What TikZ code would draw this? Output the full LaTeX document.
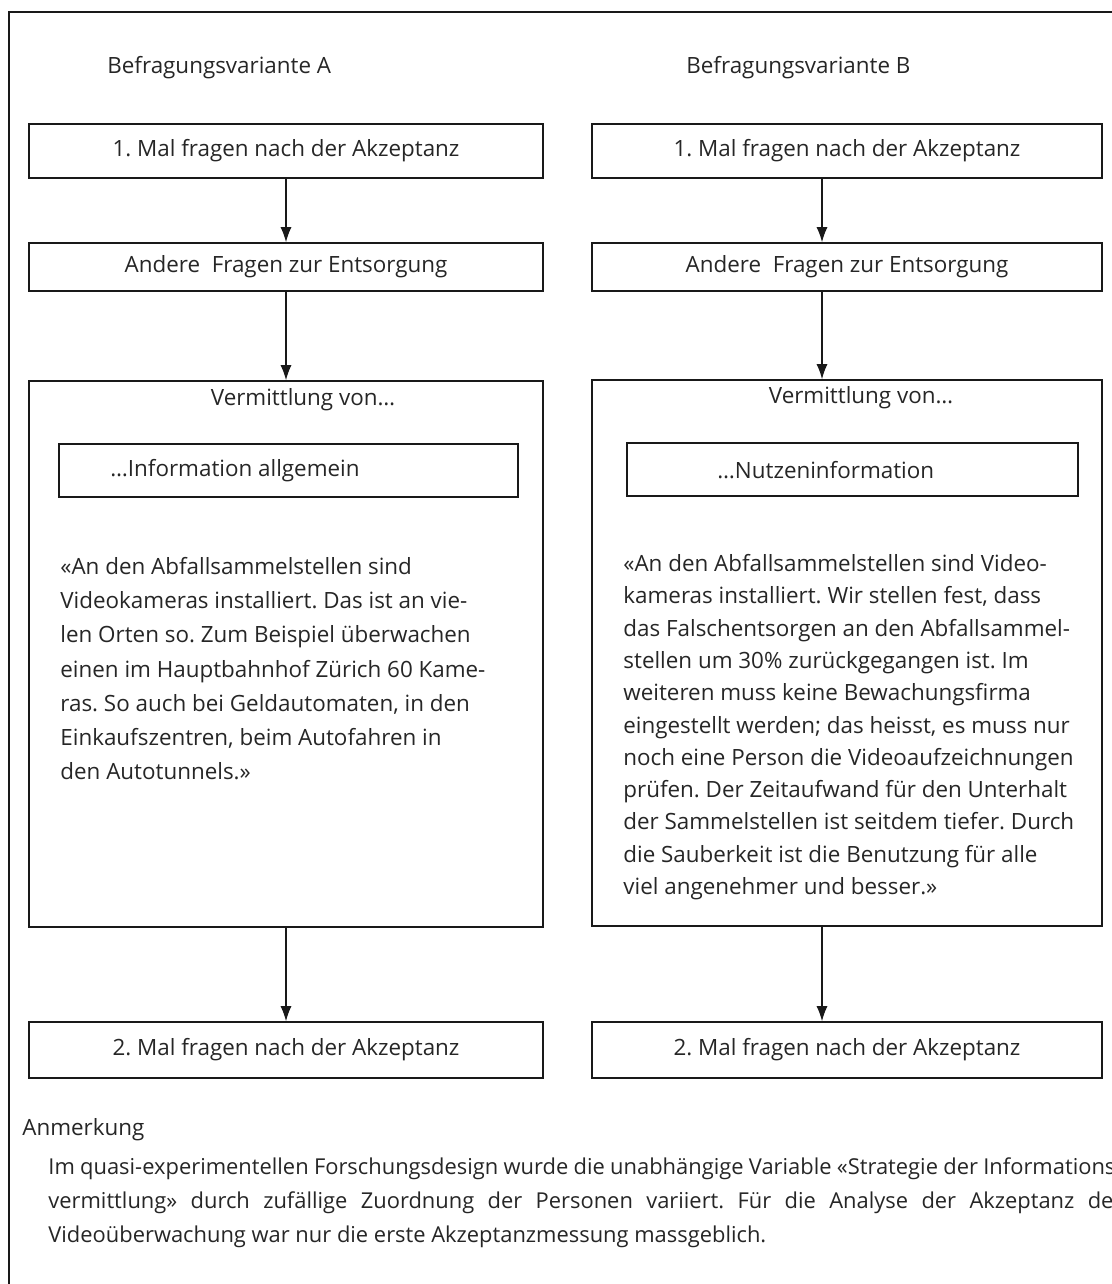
\documentclass[tikz,border=0pt]{standalone}
\usepackage{fontspec}
\setmainfont{Open Sans}
\usetikzlibrary{arrows.meta}
\frenchspacing

\begin{document}
\begin{tikzpicture}[x=0.5pt,y=-0.5pt,
  every node/.style={inner sep=0pt, text=black!85, font=\fontsize{11.2}{17.1}\selectfont},
  askbox/.style={draw=black!90, line width=0.8pt},
  colbox/.style={askbox, minimum width=257pt},
  flow/.style={draw=black!90, line width=0.6pt, -{Latex[length=7.5pt,width=5.5pt]}}]
\useasboundingbox (0,0) rectangle (1112,1284);
\clip (0,0) rectangle (1112,1284);
\draw[black!90, line width=0.7pt] (9,12) rectangle (1140,1320);

% headings
\node[anchor=west] (headA) at (107,68) {Befragungsvariante A};
\node[anchor=west] (headB) at (686,68) {Befragungsvariante B};

% Variante A
\node[colbox, minimum height=27pt] (a1) at (286,151) {1. Mal fragen nach der Akzeptanz};
\node[colbox, minimum height=24pt] (a2) at (286,267) {Andere~ Fragen zur Entsorgung};
\node[colbox, minimum height=273pt] (a3) at (286,654) {};
\node (vermA) at (303,400) {Vermittlung von…};
\node[askbox, minimum width=229.5pt, minimum height=26.5pt] (infoA) at (288.5,470.5) {};
\node[anchor=west] (infoAtext) at (110,471) {…Information allgemein};
\node[anchor=north west, align=left] (quoteA) at (60,557)
  {«An den Abfallsammelstellen sind\\
   Videokameras installiert. Das ist an vie-\\
   len Orten so. Zum Beispiel überwachen\\
   einen im Hauptbahnhof Zürich 60 Kame-\\
   ras. So auch bei Geldautomaten, in den\\
   Einkaufszentren, beim Autofahren in\\
   den Autotunnels.»};
\node[colbox, minimum height=28pt] (a4) at (286,1050) {2. Mal fragen nach der Akzeptanz};

% Variante B
\node[colbox, minimum width=255pt, minimum height=27pt] (b1) at (847,151) {1. Mal fragen nach der Akzeptanz};
\node[colbox, minimum width=255pt, minimum height=24pt] (b2) at (847,267) {Andere~ Fragen zur Entsorgung};
\node[colbox, minimum width=255pt, minimum height=273pt] (b3) at (847,653) {};
\node (vermB) at (861,398) {Vermittlung von…};
\node[askbox, minimum width=225.5pt, minimum height=26.5pt] (infoB) at (852.5,469.5) {};
\node[anchor=west] (infoBtext) at (717,470) {…Nutzeninformation};
\node[anchor=north west, align=left, font=\fontsize{11.2}{16.15}\selectfont] (quoteB) at (623,554)
  {«An den Abfallsammelstellen sind Video-\\
   kameras installiert. Wir stellen fest, dass\\
   das Falschentsorgen an den Abfallsammel-\\
   stellen um 30\% zurückgegangen ist. Im\\
   weiteren muss keine Bewachungsfirma\\
   eingestellt werden; das heisst, es muss nur\\
   noch eine Person die Videoaufzeichnungen\\
   prüfen. Der Zeitaufwand für den Unterhalt\\
   der Sammelstellen ist seitdem tiefer. Durch\\
   die Sauberkeit ist die Benutzung für alle\\
   viel angenehmer und besser.»};
\node[colbox, minimum width=255pt, minimum height=28pt] (b4) at (847,1050) {2. Mal fragen nach der Akzeptanz};

% arrows
\draw[flow] (a1) -- (a2);
\draw[flow] (a2) -- (a3);
\draw[flow] (a3) -- (a4);
\draw[flow] ([xshift=-12.5pt]b1.south) -- ([xshift=-12.5pt]b2.north);
\draw[flow] ([xshift=-12.5pt]b2.south) -- ([xshift=-12.5pt]b3.north);
\draw[flow] ([xshift=-12.5pt]b3.south) -- ([xshift=-12.5pt]b4.north);

% note
\node[anchor=west] (note) at (22,1130) {Anmerkung};
\node[anchor=north west, align=left, font=\fontsize{10.95}{17.1}\selectfont] (noteText) at (48,1157)
  {\makebox[537pt][s]{Im quasi-experimentellen Forschungsdesign wurde die unabhängige Variable «Strategie der Informations-}\\
   \makebox[537pt][s]{vermittlung» durch zufällige Zuordnung der Personen variiert. Für die Analyse der Akzeptanz der}\\
   Videoüberwachung war nur die erste Akzeptanzmessung massgeblich.};
\end{tikzpicture}
\end{document}
